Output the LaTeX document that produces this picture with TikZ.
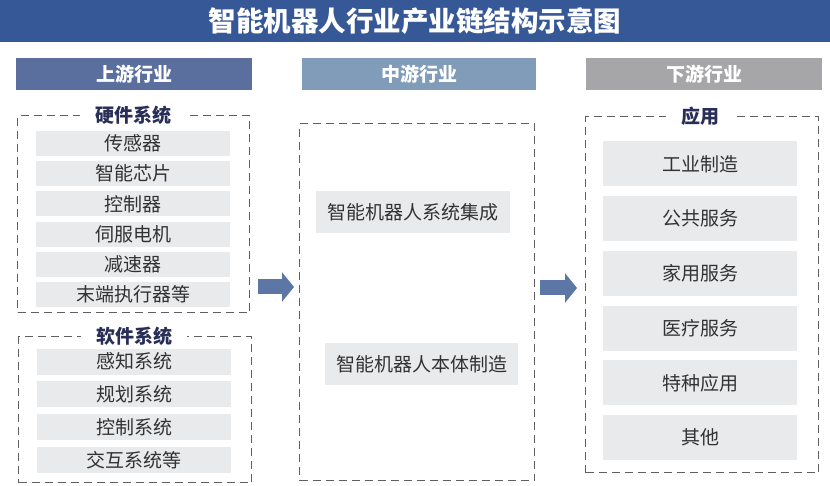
\documentclass[tikz,border=0pt]{standalone}
\usepackage{fontspec}
\setmainfont{Noto Sans CJK SC}
\newfontfamily\cjk{Noto Sans CJK SC}
\usetikzlibrary{arrows.meta}
\definecolor{titlebg}{RGB}{55,88,150}
\definecolor{hdrA}{RGB}{91,111,158}
\definecolor{hdrB}{RGB}{128,156,184}
\definecolor{hdrC}{RGB}{166,166,168}
\definecolor{itemgray}{RGB}{233,234,236}
\definecolor{itemtext}{RGB}{50,50,50}
\definecolor{dashcol}{RGB}{95,95,100}
\definecolor{seccol}{RGB}{40,46,88}
\definecolor{arrowcol}{RGB}{92,119,166}
\tikzset{
  hdr/.style={minimum width=236pt, minimum height=32pt, inner sep=0pt, anchor=north west,
    text=white, font=\cjk\bfseries\fontsize{19}{19}\selectfont},
  dashbox/.style={draw=dashcol, line width=1.3pt, dash pattern=on 8pt off 5pt, anchor=north west, inner sep=0pt},
  seclabel/.style={fill=white, inner xsep=15pt, inner ysep=1pt, text=seccol,
    font=\cjk\bfseries\fontsize{19}{19}\selectfont},
  item/.style={fill=itemgray, inner sep=0pt, text=itemtext, font=\cjk\fontsize{19}{19}\selectfont},
  smallitem/.style={item, minimum width=194pt, minimum height=25pt},
  bigarrow/.style={draw=arrowcol, line width=15pt, -{Triangle[length=12pt,width=29pt]}}
}
\begin{document}
\begin{tikzpicture}[x=1pt,y=-1pt]
\useasboundingbox (0,0) rectangle (830,486);
\fill[white] (0,0) rectangle (830,486);
% title bar
\fill[titlebg] (0,0) rectangle (830,42);
\node[text=white, font=\cjk\bfseries\fontsize{27.5}{27.5}\selectfont] (title) at (415,21) {智能机器人行业产业链结构示意图};
% headers
\node[hdr, fill=hdrA] (hA) at (16,58) {上游行业};
\node[hdr, fill=hdrB, minimum width=234pt] (hB) at (302,58) {中游行业};
\node[hdr, fill=hdrC] (hC) at (586,58) {下游行业};
% hardware box
\node[dashbox, minimum width=232pt, minimum height=197pt] (hw) at (17,115) {};
\node[seclabel] (hwl) at (133,115) {硬件系统};
\foreach \t [count=\i from 0] in {传感器,智能芯片,控制器,伺服电机,减速器,末端执行器等}{
  \node[smallitem] (hw\i) at (133,{143.5+30.2*\i}) {\t};
}
% software box
\node[dashbox, minimum width=233pt, minimum height=146pt] (sw) at (18,336) {};
\node[seclabel] (swl) at (134,336) {软件系统};
\foreach \t [count=\i from 0] in {感知系统,规划系统,控制系统,交互系统等}{
  \node[smallitem, minimum height=26pt] (sw\i) at (134,{361.5+32.8*\i}) {\t};
}
% middle box
\node[dashbox, minimum width=235pt, minimum height=357pt] (mid) at (299,123) {};
\node[item, minimum width=194pt, minimum height=42pt] (m1) at (413,212) {智能机器人系统集成};
\node[item, minimum width=193pt, minimum height=42pt] (m2) at (421.5,364) {智能机器人本体制造};
% right box
\node[dashbox, minimum width=233pt, minimum height=356pt] (app) at (585,116) {};
\node[seclabel] (appl) at (700,116) {应用};
\foreach \t [count=\i from 0] in {工业制造,公共服务,家用服务,医疗服务,特种应用,其他}{
  \node[item, minimum width=194pt, minimum height=45pt] (ap\i) at (700,{164+54.7*\i}) {\t};
}
% arrows
\coordinate (a1s) at (258,287);
\coordinate (a1e) at (294,287);
\coordinate (a2s) at (540,288);
\coordinate (a2e) at (577,288);
\draw[bigarrow] (a1s) -- (a1e);
\draw[bigarrow] (a2s) -- (a2e);
\end{tikzpicture}
\end{document}
